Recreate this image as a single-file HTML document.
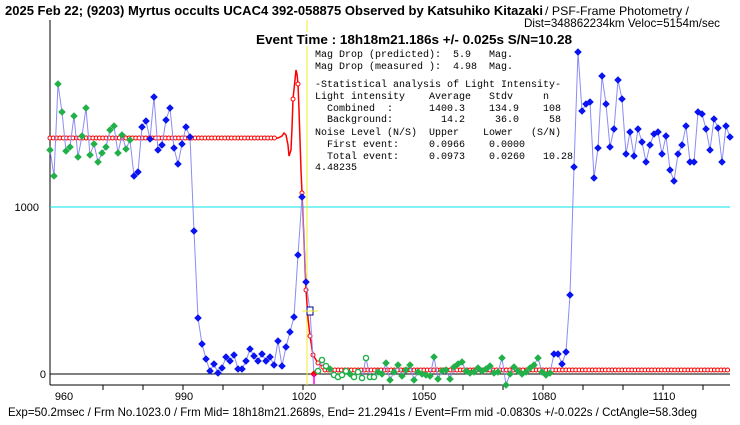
<!DOCTYPE html>
<html><head><meta charset="utf-8"><style>
html,body{margin:0;padding:0;background:#fff;}
svg{display:block;}
text{font-family:"Liberation Sans","Noto Sans CJK JP",sans-serif;}
.m{font-family:"Liberation Mono","Noto Sans CJK JP",monospace;font-size:10px;white-space:pre;}
</style></head><body>
<svg id="s" width="740" height="425" viewBox="0 0 740 425" xmlns="http://www.w3.org/2000/svg">
<text x="5" y="15" font-size="13" font-weight="bold" textLength="538" lengthAdjust="spacingAndGlyphs">2025 Feb 22; (9203) Myrtus occults UCAC4 392-058875 Observed by Katsuhiko Kitazaki</text>
<text x="545" y="15" font-size="12" textLength="144" lengthAdjust="spacingAndGlyphs">/ PSF-Frame Photometry /</text>
<text x="524" y="27" font-size="12" textLength="196" lengthAdjust="spacingAndGlyphs">Dist=348862234km Veloc=5154m/sec</text>
<line x1="50" y1="20" x2="50" y2="385" stroke="#000" stroke-width="1"/>
<line x1="50" y1="385" x2="730" y2="385" stroke="#000"/>
<line x1="50" y1="374" x2="730" y2="374" stroke="#000"/>
<line x1="50" y1="207" x2="730" y2="207" stroke="#00e5ee"/>
<line x1="307" y1="20" x2="307" y2="385" stroke="#f5ee30"/>
<text x="39" y="211" font-size="11" text-anchor="end">1000</text>
<text x="46" y="378" font-size="11" text-anchor="end">0</text>
<g id="g"></g>
<rect x="254" y="32" width="320" height="14" fill="#fff"/>
<text x="256" y="44" font-size="13" font-weight="bold" textLength="316" lengthAdjust="spacingAndGlyphs">Event Time : 18h18m21.186s  +/- 0.025s  S/N=10.28</text>
<text class="m" x="315" y="57">Mag Drop (predicted):  5.9   Mag.</text>
<text class="m" x="315" y="69">Mag Drop (measured ):  4.98  Mag.</text>
<text class="m" x="315" y="87">-Statistical analysis of Light Intensity-</text>
<text class="m" x="315" y="99">Light intensity    Average   Stdv     n</text>
<text class="m" x="315" y="111">  Combined  :      1400.3    134.9    108</text>
<text class="m" x="315" y="122">  Background:        14.2     36.0     58</text>
<text class="m" x="315" y="135">Noise Level (N/S)  Upper    Lower   (S/N)</text>
<text class="m" x="315" y="147">  First event:     0.0966    0.0000</text>
<text class="m" x="315" y="159">  Total event:     0.0973    0.0260   10.28</text>
<text class="m" x="315" y="170">4.48235</text>
<text x="8" y="416" font-size="12" textLength="689" lengthAdjust="spacingAndGlyphs">Exp=50.2msec / Frm No.1023.0 / Frm Mid= 18h18m21.2689s,  End= 21.2941s / Event=Frm mid -0.0830s +/-0.022s / CctAngle=58.3deg</text>
</svg>
<script>
var g=document.getElementById('g'),h='';
for(var f=970;f<=1130;f+=10){var x=63+(f-960)*4;if(x>728)break;h+='<line x1="'+x+'" y1="385" x2="'+x+'" y2="390" stroke="#000"/>';}
[960,990,1020,1050,1080,1110].forEach(function(f){var x=64+(f-960)*4;h+='<text x="'+x+'" y="400" font-size="11" text-anchor="middle">'+f+'</text>';});
var rp=[[50,138],[278,138],[282,136],[284,133],[286,135],[288,145],[289,156],[291,150],[292,128],[293,99],[295,80],[296,70],[297,74],[298,84],[299,110],[300,140],[301,170],[302,193],[304,240],[306,290],[308,318],[310,336],[313,355],[318,363],[323,367],[330,370],[730,370]];
h+='<polyline fill="none" stroke="#f00" stroke-width="1.5" points="'+rp.map(function(p){return p.join(',')}).join(' ')+'"/>';
for(var x=50;x<276;x+=3.3)h+='<circle cx="'+x+'" cy="138" r="2" fill="#fff" stroke="#f00" stroke-width="1"/>';
for(var x=325;x<730;x+=3.3)h+='<circle cx="'+x+'" cy="370" r="2" fill="#fff" stroke="#f00" stroke-width="1"/>';
[[293,99],[298,84],[302,193],[306,290],[310,336],[313,355],[318,363],[323,367]].forEach(function(p){h+='<circle cx="'+p[0]+'" cy="'+p[1]+'" r="2" fill="#fff" stroke="#f00"/>';});
var G='g',B='b',O='o';
var d=[[150,G],[176,G],[84,G],[112,G],[151,G],[147,G],[116,G],[157,G],[136,G],[108,G],[155,G],[144,G],[162,G],[153,G],[147,G],[130,G],[126,G],[153,G],[135,G],[149,G],[140,G],
[176,B],[172,B],[127,B],[121,B],[139,B],[97,B],[150,B],[145,B],[120,B],[108,B],[148,B],[164,B],[144,B],[127,B],[137,B],
[231,B],[318,B],[344,B],[359,B],[371,B],[364,B],[373,B],[368,B],[357,B],[361,B],[355,B],[369,B],[369,B],[361,B],[349,B],[356,B],[361,B],[354,B],[361,B],[357,B],[365,B],[341,B],[366,B],[347,B],[332,B],[317,B],[255,B],[197,B],[282,B],[311,'s']];
var post=[[374,'r'],[371,O],[360,O],[366,O],[369,G],[375,O],[377,O],[375,O],[371,O],[374,G],[377,O],[372,O],[378,O],[358,O],[377,O],[377,O],[372,G],[374,G],[363,G],[380,G],[372,G],[365,G],[376,G],[370,G],[365,G],[380,G],[372,G],[374,G],[375,G],[376,G],[357,G],[379,G],[371,G],[370,G],[379,G],[367,G],[364,G],[362,G],[371,G],[373,G],[372,G],[368,G],[371,G],[369,G],[366,G],[373,G],[372,G],[358,G],[385,G],[374,G],[367,G],[371,G],[374,G],[372,G],[368,G],[365,G],[358,G],[372,G],[375,G],[373,G],[354,B],[354,B],[364,B],[352,B],[295,B],[167,B],[52,B],[111,B],[104,B],[102,B],[178,B],[148,B],[76,B],[104,B],[147,B],[129,B],[80,B],[99,B],[154,B],[132,B],[156,B],[129,B],[142,B],[162,B],[145,B],[134,B],[132,B],[154,B],[136,B],[170,B],[181,B],[154,B],[145,B],[126,B],[162,B],[162,B],[112,B],[114,B],[129,B],[150,B],[119,B],[128,B],[162,B],[126,B],[137,B]];
d=d.concat(post);
var pts=d.map(function(p,i){return [50+i*4,p[0],p[1]];});
h+='<polyline fill="none" stroke="#8c8cf5" stroke-width="1" points="'+pts.map(function(p){return p[0]+','+p[1]}).join(' ')+'"/>';
pts.forEach(function(p){var x=p[0],y=p[1],t=p[2];
 if(t=='o'){h+='<circle cx="'+x+'" cy="'+y+'" r="2.6" fill="#fff" stroke="#22b04a" stroke-width="1.4"/>';return;}
 if(t=='s'){h+='<rect x="'+(x-3)+'" y="'+(y-4)+'" width="6" height="8" fill="#fff" stroke="#00008b"/><line x1="'+(x-8)+'" y1="'+y+'" x2="'+(x+8)+'" y2="'+y+'" stroke="#f5ee30"/>';return;}
 var c=t=='g'?'#22b04a':(t=='r'?'#f00':'#0a14f0');
 var r=3.8;
 h+='<polygon points="'+x+','+(y-r)+' '+(x+r)+','+y+' '+x+','+(y+r)+' '+(x-r)+','+y+'" fill="'+c+'"/>';
 if(t=='r')h+='<line x1="'+x+'" y1="'+y+'" x2="'+x+'" y2="384" stroke="#f0f" stroke-width="1.5"/>';
});
g.innerHTML=h;
</script>
</body></html>
